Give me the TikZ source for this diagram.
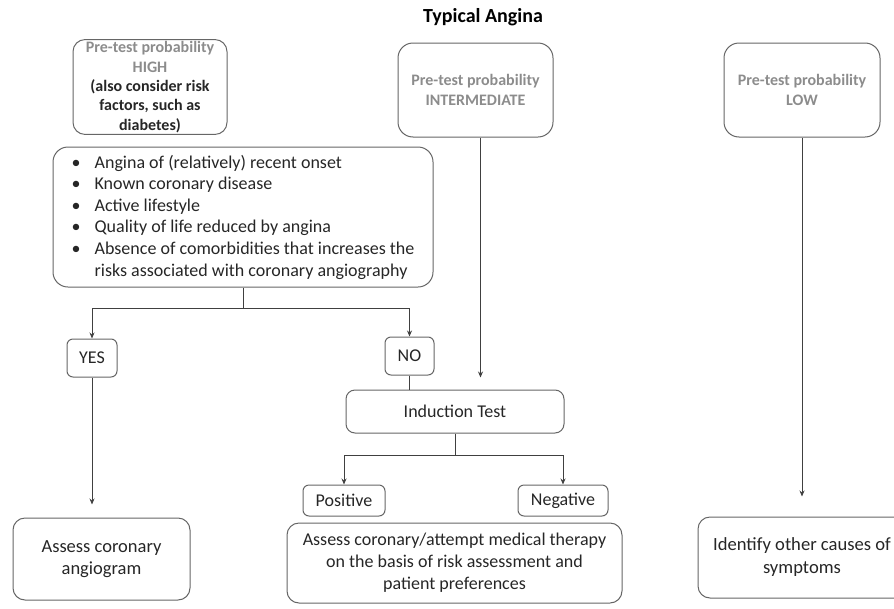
\documentclass[tikz,border=0pt]{standalone}
\usepackage{fontspec}
\setmainfont{Carlito}
\usetikzlibrary{arrows.meta}

\definecolor{pretest}{gray}{0.55}

\begin{document}
\begin{tikzpicture}[x=1pt,y=-1pt,
  box/.style={draw=black!60, line width=1pt, rounded corners=12pt, align=center, inner sep=2pt,
    text=black!85, font=\fontsize{18}{22}\selectfont},
  smallbox/.style={box, rounded corners=6pt},
  probbox/.style={box, rounded corners=15pt, font=\fontsize{16}{19.3}\selectfont\bfseries},
  arr/.style={draw=black!75, line width=0.8pt, -{Stealth[length=6pt,width=5pt]}},
  link/.style={draw=black!75, line width=0.8pt}]
  \clip (0,0) rectangle (894,608);

  \node[font=\fontsize{20}{24}\selectfont\bfseries] (title) at (483,17) {Typical Angina};

  % pre-test probability boxes
  \node[probbox, rounded corners=12pt, minimum width=154, minimum height=94] (high) at (150,87)
    {\textcolor{pretest}{Pre-test probability}\\ \textcolor{pretest}{HIGH}\\
     (also consider risk\\ factors, such as\\ diabetes)};
  \node[probbox, minimum width=155, minimum height=94] (inter) at (475.5,90)
    {\textcolor{pretest}{Pre-test probability}\\ \textcolor{pretest}{INTERMEDIATE}};
  \node[probbox, minimum width=156, minimum height=94] (low) at (802,90)
    {\textcolor{pretest}{Pre-test probability}\\ \textcolor{pretest}{LOW}};

  % criteria list
  \node[box, rounded corners=15pt, align=left, minimum width=380, minimum height=140,
    font=\fontsize{18}{21.6}\selectfont] (crit) at (243,217)
    {\makebox[23pt][l]{\textbullet}Angina of (relatively) recent onset\\
     \makebox[23pt][l]{\textbullet}Known coronary disease\\
     \makebox[23pt][l]{\textbullet}Active lifestyle\\
     \makebox[23pt][l]{\textbullet}Quality of life reduced by angina\\
     \makebox[23pt][l]{\textbullet}Absence of comorbidities that increases the\\
     \hspace*{23pt}risks associated with coronary angiography};

  % answers and tests
  \node[smallbox, minimum width=50, minimum height=38] (yes) at (92,358) {YES};
  \node[smallbox, minimum width=49, minimum height=38] (no) at (409.5,356) {NO};
  \node[smallbox, rounded corners=9pt, minimum width=218, minimum height=43] (induct) at (455,411.5) {Induction Test};
  \node[smallbox, minimum width=82, minimum height=31] (pos) at (344,500.5) {Positive};
  \node[smallbox, minimum width=90, minimum height=31] (neg) at (563,500.5) {Negative};

  % outcomes
  \node[box, minimum width=177, minimum height=82, font=\fontsize{18.5}{22.5}\selectfont] (angio) at (101.5,559)
    {Assess coronary\\ angiogram};
  \node[box, minimum width=335, minimum height=80] (therapy) at (454.5,563)
    {Assess coronary/attempt medical therapy\\ on the basis of risk assessment and\\ patient preferences};
  \node[box, minimum width=208, minimum height=81, font=\fontsize{18.6}{23}\selectfont] (other) at (802,557.5)
    {Identify other causes of\\ symptoms};

  % connectors
  \draw[link] (crit.south) -- ++(0,21) coordinate (critsplit);
  \draw[arr] (critsplit) -| (yes.north);
  \draw[arr] (critsplit) -| (no.north);
  \draw[link] (no.south) -- (no.south |- induct.north);
  \coordinate (interout) at ([xshift=5pt]inter.south);
  \draw[arr, shorten >=12pt] (interout) -- (interout |- induct.north);
  \draw[link] (induct.south) -- ++(0,22) coordinate (indsplit);
  \draw[arr] (indsplit) -| (pos.north);
  \draw[arr] (indsplit) -| (neg.north);
  \draw[arr, shorten >=13pt] (yes.south) -- (yes.south |- angio.north);
  \draw[arr, shorten >=20pt] (low.south) -- (low.south |- other.north);
\end{tikzpicture}
\end{document}
